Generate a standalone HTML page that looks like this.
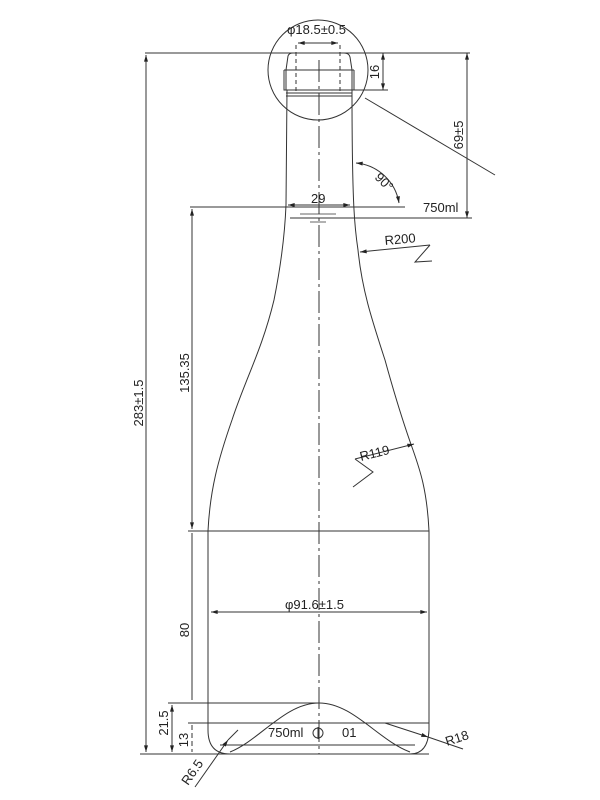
<!DOCTYPE html>
<html><head><meta charset="utf-8"><style>
html,body{margin:0;padding:0;background:#fff;width:600px;height:800px;overflow:hidden}
svg{display:block}
text{font-family:"Liberation Sans Narrow","Liberation Sans",sans-serif;fill:#222;font-size:13px}
</style></head><body>
<svg width="600" height="800" viewBox="0 0 600 800" xmlns="http://www.w3.org/2000/svg">
<defs><marker id="a" viewBox="0 0 10 6" refX="10" refY="3" markerWidth="7" markerHeight="4" orient="auto-start-reverse"><path d="M0,0L10,3L0,6z" fill="#222"/></marker></defs>
<g stroke="#333" stroke-width="1" fill="none">
<path d="M286,90 L286,70 L288,56 Q289,53 293,53 L344,53 Q349,53 350,57 L352,70 L352,90"/>
<path d="M284,70 L354,70 M284,70 L284,90 L354,90 L354,70"/>
<path d="M286,93 L352,93 M286,96 L352,96"/>
<path d="M287,90 L286,205 C285,230 282,260 274,300 C262,350 245,380 232,420 C218,460 210,490 208,531 L208,730 Q208,754 230,754 L410,754 Q428,754 429,730 L429,531 C427,490 420,470 413,450 C404,425 396,400 385,360 C372,320 362,290 358,250 C355,230 352,210 352,90"/>
<path d="M296,45 L296,92 M340,45 L340,92" stroke-dasharray="4,3"/>
<path d="M319,60 L319,754" stroke-dasharray="22,4,3,4"/>
<circle cx="318" cy="70" r="50"/>
<path d="M365,98 L495,175"/>
<path d="M145,53 L470,53"/>
<path d="M352,90 L388,90"/>
<path d="M383,53 L383,90" marker-start="url(#a)" marker-end="url(#a)"/>
<path d="M467,53 L467,218" marker-start="url(#a)" marker-end="url(#a)"/>
<path d="M298,43 L338,43" marker-start="url(#a)" marker-end="url(#a)"/>
<path d="M190,207 L405,207"/>
<path d="M288,205 L350,205" marker-start="url(#a)" marker-end="url(#a)"/>
<path d="M290,218 L472,218"/>
<path d="M300,214 L336,214 M305,218 L331,218 M310,222 L326,222" stroke-width="0.8"/>
<path d="M356,163 A48,48 0 0 1 399,203" marker-start="url(#a)" marker-end="url(#a)"/>
<path d="M430,245 L360,252" marker-end="url(#a)"/>
<path d="M430,245 L415,262 L432,261"/>
<path d="M355,459 L414,444" marker-end="url(#a)"/>
<path d="M355,459 L373,472 L353,487"/>
<path d="M188,531 L429,531"/>
<path d="M211,612 L427,612" marker-start="url(#a)" marker-end="url(#a)"/>
<path d="M146,55 L146,752" marker-start="url(#a)" marker-end="url(#a)"/>
<path d="M192,209 L192,529" marker-start="url(#a)" marker-end="url(#a)"/>
<path d="M192,533 L192,700"/>
<path d="M172,705 L172,752" marker-start="url(#a)" marker-end="url(#a)"/>
<path d="M192,725 L192,752" stroke-dasharray="5,3"/>
<path d="M168,703 L319,703 M188,723 L429,723 M140,754 L429,754 M220,745 L415,745"/>
<path d="M230,752 C260,740 285,703 319,703 C353,703 378,740 410,752"/>
<path d="M385,723 L428,737" marker-end="url(#a)"/>
<path d="M428,737 L463,749"/>
<path d="M195,787 L228,740" marker-end="url(#a)"/>
<path d="M228,740 L238,730"/>
<circle cx="318" cy="733" r="5"/>
<path d="M318,727 L318,739"/>
</g>
<text x="287" y="34">φ18.5±0.5</text>
<text x="311" y="203">29</text>
<text x="423" y="212">750ml</text>
<text x="385" y="245" transform="rotate(-5 385 245)">R200</text>
<text x="361" y="461" transform="rotate(-14 361 461)">R119</text>
<text x="285" y="609">φ91.6±1.5</text>
<text x="268" y="737">750ml</text>
<text x="342" y="737">01</text>
<text x="447" y="746" transform="rotate(-18 447 746)">R18</text>
<text x="188" y="786" transform="rotate(-55 188 786)">R6.5</text>
<text x="374" y="178" transform="rotate(45 374 178)">90°</text>
<text transform="translate(143,403) rotate(-90)" text-anchor="middle">283±1.5</text>
<text transform="translate(189,373) rotate(-90)" text-anchor="middle">135.35</text>
<text transform="translate(189,630) rotate(-90)" text-anchor="middle">80</text>
<text transform="translate(168,723) rotate(-90)" text-anchor="middle">21.5</text>
<text transform="translate(188,740) rotate(-90)" text-anchor="middle">13</text>
<text transform="translate(379,72) rotate(-90)" text-anchor="middle">16</text>
<text transform="translate(463,135) rotate(-90)" text-anchor="middle">69±5</text>
</svg>
</body></html>
